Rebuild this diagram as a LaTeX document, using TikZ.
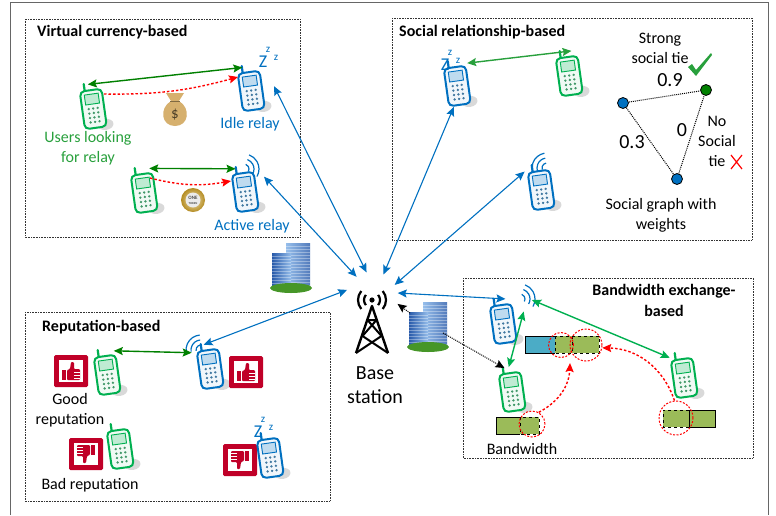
\documentclass[tikz,border=0pt]{standalone}
\usepackage{fontspec}
\setmainfont{Carlito}
\usetikzlibrary{arrows.meta}

\definecolor{userGreen}{RGB}{0,176,80}
\definecolor{linkGreen}{RGB}{0,128,0}
\definecolor{labelGreen}{RGB}{40,160,60}
\definecolor{relayBlue}{RGB}{0,112,192}
\definecolor{repRed}{RGB}{192,0,40}
\definecolor{bagTan}{RGB}{214,176,110}
\definecolor{coinGold}{RGB}{212,165,40}
\definecolor{bwGreen}{RGB}{155,187,89}
\definecolor{bwBlue}{RGB}{75,172,198}
\definecolor{glassLight}{RGB}{150,190,235}
\definecolor{glassDark}{RGB}{40,90,170}
\definecolor{lawnGreen}{RGB}{70,150,40}

\tikzset{
  groupbox/.style={draw=black!80, densely dotted, line width=0.6pt},
  boxtitle/.style={font=\fontsize{16}{19}\selectfont\bfseries, anchor=west, inner sep=0pt},
  note/.style={font=\fontsize{16}{20}\selectfont, align=center, inner sep=0pt},
  weight/.style={font=\fontsize{20}{22}\selectfont, inner sep=0pt},
  phonespot/.style={circle, minimum size=46pt, inner sep=0pt},
  snore/.style={text=relayBlue, inner sep=0pt},
  vertex/.style={circle, draw=black, line width=0.8pt, minimum size=11pt, inner sep=0pt},
  ring/.style={circle, draw=red, dash pattern=on 2pt off 1.5pt, line width=1pt, inner sep=0pt},
  bluelink/.style={relayBlue, line width=1.1pt, <->},
  greenlink/.style={linkGreen, line width=1.4pt, <->},
  paylink/.style={red, dash pattern=on 2.5pt off 2pt, line width=1.4pt, ->},
  tie/.style={black, densely dotted, line width=1pt},
}

% mobile handset, tilted, with its shadow
\newcommand{\Handset}[4]{% name, colour, x, y
  \begin{scope}[shift={(#3, #4)}, rotate=8]
    \fill [black!15] (10, 19) ellipse (8pt and 5.5pt);
    \draw [#2, line width=2.2pt, line cap=round] (-6, -17) -- (-6, -24);
    \draw [#2, line width=2pt, fill=#2!6, rounded corners=4.5pt] (-11, -17) rectangle (11, 21);
    \draw [#2, line width=0.9pt, fill=#2!25] (-7, -13) rectangle (7, -3);
    \foreach \row in {0,...,3}
      \foreach \col in {-1,0,1}
        \fill [#2!50!gray] (4.5*\col, 1.5+4.5*\row) circle (1.3pt);
  \end{scope}
  \node [phonespot] (#1) at (#3, #4) {};
}
% sleeping relay
\newcommand{\Snooze}[3]{% name, x, y
  \node [snore, font=\fontsize{18}{18}\selectfont] (#1) at (#2, #3) {Z};
  \node [snore, font=\fontsize{11}{11}\selectfont] (#1a) at (#2+5, #3-12) {z};
  \node [snore, font=\fontsize{11}{11}\selectfont] (#1b) at (#2+13, #3-4) {z};
}
% radio waves of an active relay
\newcommand{\Signal}[4]{% x, y, start angle, end angle
  \foreach \r in {5pt,10pt,15pt}
    \draw [relayBlue, line width=1.2pt] (#1, #2) ++(#3:\r) arc [start angle=#3, end angle=#4, radius=\r];
}
% pair of office towers on a lawn
\newcommand{\Offices}[3]{% name, x, y
  \begin{scope}[shift={(#2, #3)}]
    \shade [left color=glassLight, right color=glassDark!80] (-5, -23) rectangle (19, 21);
    \foreach \h in {-20,-17,...,19}
      \draw [white, opacity=0.35, line width=0.4pt] (-5, \h) -- (19, \h);
    \shade [left color=glassDark, right color=glassLight] (-19, -13) rectangle (0, 22);
    \foreach \h in {-10,-7,...,20}
      \draw [white, opacity=0.35, line width=0.4pt] (-19, \h) -- (0, \h);
    \fill [lawnGreen] (0, 22) ellipse (21pt and 5pt);
  \end{scope}
  \node [minimum width=40pt, minimum height=46pt, inner sep=0pt] (#1) at (#2, #3) {};
}
% thumb up (0) or down (180) badge
\newcommand{\Verdict}[4]{% name, x, y, turn
  \begin{scope}[shift={(#2, #3)}, rotate=#4]
    \fill [repRed, rounded corners=1.5pt] (-17, -16) rectangle (17, 16);
    \fill [white] (-12, -11) rectangle (12, 11);
    \fill [repRed] (-9, -1) rectangle (-5, 9);
    \fill [repRed, rounded corners=1pt] (-4, -1) -- (-1, -2) -- (0, -9) -- (3, -9)
      -- (3, -2) -- (9, -2) -- (9, 9) -- (-4, 9) -- cycle;
    \draw [white, line width=0.6pt] (3, 1) -- (9, 1) (3, 4) -- (9, 4) (3, 7) -- (9, 7);
  \end{scope}
  \node [minimum size=34pt, inner sep=0pt] (#1) at (#2, #3) {};
}

\begin{document}
\begin{tikzpicture}[x=1pt, y=-1pt, >={Stealth[length=9pt, width=8pt, inset=1.5pt]}]
  \useasboundingbox (0, 0) rectangle (776, 515);
  \draw [black!60, line width=1pt] (10, 515) -- (10, 2) -- (768, 2) -- (768, 515);

  % group frames
  \draw [groupbox] (25, 19) rectangle (300, 237);
  \draw [groupbox] (392, 18) rectangle (752, 240);
  \draw [groupbox] (25, 312) rectangle (330, 501);
  \draw [groupbox] (463, 278) rectangle (753, 458);
  \node [boxtitle] (vctitle) at (37, 32) {Virtual currency-based};
  \node [boxtitle] (srtitle) at (399, 32) {Social relationship-based};
  \node [boxtitle] (reptitle) at (42, 327) {Reputation-based};
  \node [boxtitle, anchor=center, align=center, font=\fontsize{16}{21}\selectfont\bfseries]
    (bwtitle) at (664, 300) {Bandwidth exchange-\\based};

  % base station
  \node [circle, minimum size=52pt, inner sep=0pt] (bs) at (372, 298) {};
  \fill (372, 300) circle (2.6pt);
  \foreach \r in {8pt, 14pt} {
    \draw [line width=2.2pt] (372, 300) ++(140:\r) arc [start angle=140, end angle=220, radius=\r];
    \draw [line width=2.2pt] (372, 300) ++(-40:\r) arc [start angle=-40, end angle=40, radius=\r];
  }
  \draw [line width=2.4pt, line join=round] (356, 353) -- (372, 306) -- (388, 353);
  \draw [line width=2pt, line join=round] (367.5, 320) -- (376.5, 320) -- (362.5, 336) -- (388, 353);
  \draw [line width=2pt, line join=round] (367.5, 320) -- (381.5, 336) -- (356, 353);
  \node [note, font=\fontsize{20}{24}\selectfont] (bslabel) at (375, 385) {Base\\station};
  \Offices{campus}{291}{266}

  % virtual currency group
  \Handset{seeker}{userGreen}{93}{107}
  \Handset{idle}{relayBlue}{251}{89}
  \Snooze{idlez}{263}{62}
  \Handset{asker}{userGreen}{144}{191}
  \Handset{busy}{relayBlue}{245}{190}
  \Signal{244}{169}{-30}{70}
  \node [note, text=labelGreen] (seekerlabel) at (88, 148) {Users looking\\for relay};
  \node [note, text=relayBlue] (idlelabel) at (250, 124) {Idle relay};
  \node [note, text=relayBlue] (busylabel) at (252, 226) {Active relay};
  \fill [bagTan] (171, 101) .. controls (159, 108) and (161, 126) .. (175, 126)
    .. controls (189, 126) and (191, 108) .. (179, 101) -- cycle;
  \fill [bagTan] (166, 93) -- (184, 93) -- (179, 101) -- (171, 101) -- cycle;
  \draw [bagTan!60!black, line width=0.8pt] (170, 101) -- (180, 101);
  \node [font=\fontsize{15}{15}\selectfont, text=bagTan!35!black, inner sep=0pt] (dollar) at (175, 115) {\$};
  \shade [inner color=coinGold!30, outer color=coinGold!85!black] (193, 200) circle (12pt);
  \fill [black!8] (193, 200) circle (7.5pt);
  \node [align=center, inner sep=0pt, font=\fontsize{5}{5}\selectfont\bfseries, text=black!70]
    (token) at (193, 200) {ONE\\{\fontsize{3}{3}\selectfont TOKEN}};
  \draw [greenlink] (seeker.103) -- (idle.112);
  \draw [paylink] ([shift={(11, -13)}]seeker.center) to [bend right=8] ([shift={(-13, -12)}]idle.center);
  \draw [greenlink] (asker.77) -- (busy.114);
  \draw [paylink] ([shift={(6, -13)}]asker.center) to [bend right=12] ([shift={(-14, -9)}]busy.center);
  \draw [bluelink] (bs.102) -- (idle.7);
  \draw [bluelink] (bs.126) -- (busy.35);

  % social relationship group
  \Handset{sleeper}{relayBlue}{457}{84}
  \Snooze{sleepz}{445}{65}
  \Handset{friend}{userGreen}{569}{74}
  \Handset{wakeful}{relayBlue}{541}{188}
  \Signal{547}{168}{100}{200}
  \draw [greenlink, labelGreen] (sleeper.64) -- (friend.84);
  \draw [bluelink] (bs.64) -- (sleeper.262);
  \draw [bluelink] (bs.30) -- (wakeful.135);
  \node [vertex, fill=relayBlue] (ego) at (623, 103) {};
  \node [vertex, fill=linkGreen] (pal) at (706, 90) {};
  \node [vertex, fill=relayBlue] (stranger) at (677, 179) {};
  \draw [tie] (ego) -- (pal);
  \draw [tie] (ego) -- (stranger);
  \draw [tie] (stranger) -- (pal);
  \node [note] (stronglabel) at (660, 48) {Strong\\social tie};
  \node [weight] (w09) at (670, 80) {0.9};
  \node [weight] (w03) at (632, 142) {0.3};
  \node [weight] (w0) at (682, 130) {0};
  \node [note] (nolabel) at (717, 141) {No\\Social\\tie};
  \node [note] (graphlabel) at (661, 215) {Social graph with\\weights};
  \fill [labelGreen] (688, 67) -- (692, 64) -- (696, 70) -- (711, 53) -- (712, 55) -- (696, 76) -- cycle;
  \draw [red, line width=1.2pt] (731, 155) -- (742, 169) (742, 155) -- (731, 169);

  % reputation group
  \Verdict{goodmark}{71}{371}{0}
  \Handset{gooduser}{userGreen}{107}{373}
  \Handset{goodrelay}{relayBlue}{210}{367}
  \Signal{201}{350}{95}{190}
  \Verdict{relaymark}{246}{372}{0}
  \Verdict{badmark}{86}{454}{180}
  \Handset{baduser}{userGreen}{120}{447}
  \Verdict{lazymark}{240}{460}{180}
  \Handset{lazy}{relayBlue}{270}{456}
  \Snooze{lazyz}{258}{432}
  \node [note] (goodlabel) at (70, 410) {Good\\reputation};
  \node [note] (badlabel) at (90, 485) {Bad reputation};
  \draw [greenlink] (gooduser.73) -- (goodrelay.142);
  \draw [bluelink] (bs.162) -- (goodrelay.106);

  % bandwidth exchange group
  \Offices{hq}{428}{325}
  \Handset{bwrelay}{relayBlue}{503}{322}
  \Signal{520}{299}{-30}{70}
  \Handset{bwuser}{userGreen}{512}{390}
  \Handset{bwpeer}{userGreen}{684}{376}
  \fill [bwBlue] (525, 336) rectangle (555, 353);
  \fill [bwGreen] (555, 336) rectangle (599, 353);
  \draw [line width=1pt] (555, 336) -- (525, 336) -- (525, 353) -- (555, 353);
  \draw [line width=1pt, dashed] (555, 336) rectangle (599, 353) (572, 336) -- (572, 353);
  \fill [bwGreen] (496, 417) rectangle (539, 434);
  \draw [line width=1pt] (520, 417) -- (496, 417) -- (496, 434) -- (520, 434);
  \draw [line width=1pt, dashed] (520, 417) rectangle (539, 434);
  \fill [bwGreen] (663, 410) rectangle (715, 427);
  \draw [line width=1pt] (689, 410) rectangle (715, 427);
  \draw [line width=1pt, dashed] (689, 410) -- (663, 410) -- (663, 427) -- (689, 427);
  \node [ring, minimum size=26pt] (lend) at (532, 424) {};
  \node [ring, minimum size=25pt] (gotA) at (561, 345) {};
  \node [ring, minimum size=32pt] (gotB) at (586, 345) {};
  \node [ring, minimum size=34pt] (share) at (676, 418) {};
  \node [note] (bwlabel) at (522, 449) {Bandwidth};
  \draw [paylink] (lend.60) to [bend right=30] ([shift={(9, 18)}]gotA.center);
  \draw [paylink] (share.95) to [bend right=35] (gotB.-10);
  \draw [bluelink] (bs.11) -- (bwrelay.84);
  \draw [greenlink, userGreen] (bwrelay.27) -- (bwuser.98);
  \draw [greenlink, userGreen] ([shift={(29, -22)}]bwrelay.center) -- (bwpeer.128);
  \draw [tie, ->] ([shift={(-18, -12)}]hq.center) -- (bs.-13);
  \draw [tie, ->] ([shift={(15, 8)}]hq.center) -- (bwuser.109);

\end{tikzpicture}
\end{document}
